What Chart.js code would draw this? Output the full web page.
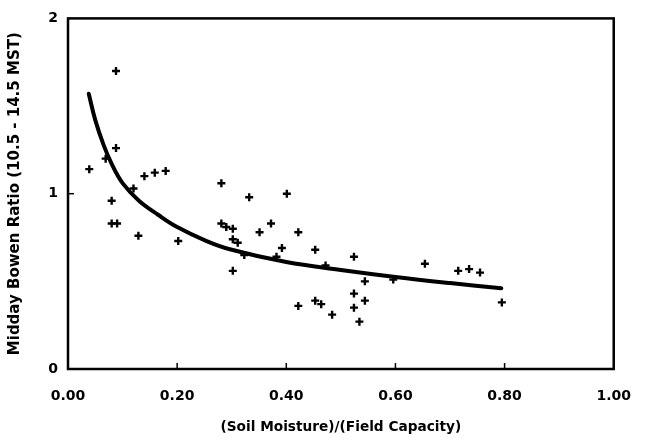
<!DOCTYPE html>
<html>
<head>
<meta charset="utf-8">
<script src="https://cdn.jsdelivr.net/npm/chart.js@4/dist/chart.umd.min.js"></script>
<style>
html,body{margin:0;padding:0;background:#fff;}
#wrap{width:650px;height:447px;}
</style>
</head>
<body>
<div id="wrap"><canvas id="c" width="650" height="447"></canvas></div>
<script>
// Observed points: (soil moisture / field capacity, midday Bowen ratio)
const obsX = [0.039,0.069,0.088,0.088,0.080,0.080,0.090,0.120,0.129,0.140,0.159,0.179,0.202,
  0.281,0.281,0.290,0.302,0.302,0.311,0.302,0.323,0.332,0.351,0.372,0.382,0.392,0.401,0.422,
  0.422,0.453,0.453,0.464,0.472,0.484,0.524,0.524,0.524,0.534,0.544,0.544,0.596,0.654,0.715,
  0.735,0.755,0.795];
const obsY = [1.14,1.20,1.26,1.70,0.96,0.83,0.83,1.03,0.76,1.10,1.12,1.13,0.73,
  1.06,0.83,0.81,0.80,0.74,0.72,0.56,0.65,0.98,0.78,0.83,0.64,0.69,1.00,0.78,
  0.36,0.68,0.39,0.37,0.59,0.31,0.64,0.43,0.35,0.27,0.50,0.39,0.51,0.60,0.56,
  0.57,0.55,0.38];
// Fitted curve
const fitX = [0.038,0.05,0.065,0.08,0.10,0.13,0.165,0.20,0.254,0.30,0.40,0.50,0.60,0.70,0.794];
const fitY = [1.57,1.42,1.28,1.17,1.06,0.96,0.88,0.81,0.73,0.68,0.61,0.565,0.525,0.49,0.46];
const xTickValues = [0,0.2,0.4,0.6,0.8,1.0];
const yTickValues = [0,1,2];
const xTitle = '(Soil Moisture)/(Field Capacity)';
const yTitle = 'Midday Bowen Ratio (10.5 - 14.5 MST)';

const obsData = obsX.map((x,i)=>({x:x,y:obsY[i]}));
const fitData = fitX.map((x,i)=>({x:x,y:fitY[i]}));

Chart.defaults.font.family = "'DejaVu Sans', 'Liberation Sans', sans-serif";
Chart.defaults.font.weight = 'bold';
Chart.defaults.color = '#000';

const framePlugin = {
  id:'frame',
  afterDraw(chart){
    const {ctx, chartArea:a, scales} = chart;
    ctx.save();
    ctx.strokeStyle = '#000';
    ctx.lineWidth = 2.5;
    ctx.strokeRect(a.left, a.top, a.right-a.left, a.bottom-a.top);
    ctx.lineWidth = 1.5;
    xTickValues.forEach(v=>{
      if (v<=0 || v>=1) return;
      const px = scales.x.getPixelForValue(v);
      ctx.beginPath(); ctx.moveTo(px, a.bottom); ctx.lineTo(px, a.bottom-6); ctx.stroke();
    });
    yTickValues.forEach(v=>{
      if (v<=0 || v>=2) return;
      const py = scales.y.getPixelForValue(v);
      ctx.beginPath(); ctx.moveTo(a.left, py); ctx.lineTo(a.left+6, py); ctx.stroke();
    });
    ctx.restore();
  }
};

new Chart(document.getElementById('c'), {
  type:'scatter',
  data:{
    datasets:[
      {data:obsData, pointStyle:'cross', pointRadius:4, pointHoverRadius:4, borderColor:'#000', borderWidth:2.4, backgroundColor:'#000', showLine:false},
      {data:fitData, showLine:true, pointRadius:0, borderColor:'#000', borderWidth:4, tension:0.4, fill:false, borderCapStyle:'round'}
    ]
  },
  options:{
    responsive:false,
    animation:false,
    devicePixelRatio:1,
    layout:{padding:{top:11,right:22,left:0,bottom:0}},
    plugins:{legend:{display:false},tooltip:{enabled:false}},
    scales:{
      x:{
        type:'linear', min:0, max:1,
        afterBuildTicks(s){ s.ticks = xTickValues.map(v=>({value:v})); },
        afterFit(s){ s.height = 78; },
        grid:{display:false, drawTicks:false},
        border:{display:false},
        ticks:{padding:19, font:{size:14, weight:'bold'}, color:'#000', callback:v=>Number(v).toFixed(2), maxRotation:0},
        title:{display:true, text:xTitle, font:{size:13.7, weight:'bold'}, color:'#000', padding:{top:0,bottom:11}}
      },
      y:{
        type:'linear', min:0, max:2,
        afterBuildTicks(s){ s.ticks = yTickValues.map(v=>({value:v})); },
        afterFit(s){ s.width = 68; },
        grid:{display:false, drawTicks:false},
        border:{display:false},
        ticks:{padding:10, font:{size:14, weight:'bold'}, color:'#000', callback:v=>String(v)},
        title:{display:true, text:yTitle, font:{size:15, weight:'bold'}, color:'#000', padding:{top:6,bottom:0}}
      }
    }
  },
  plugins:[framePlugin]
});
</script>
</body>
</html>
